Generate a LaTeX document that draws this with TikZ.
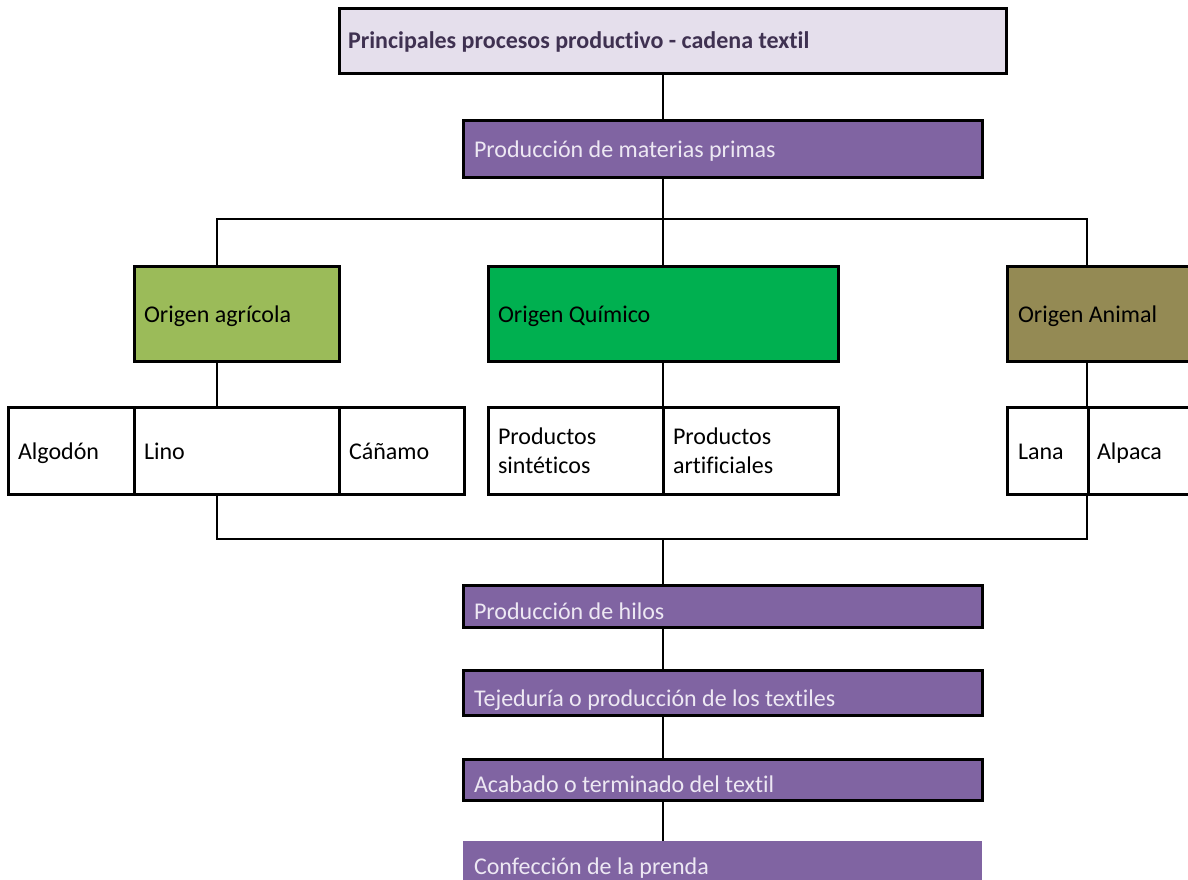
\documentclass[tikz,border=0pt]{standalone}
\usepackage{fontspec}
\setmainfont{Carlito}[Ligatures={NoCommon}]
\usetikzlibrary{backgrounds}

\definecolor{titlefill}{HTML}{E5DFEC}
\definecolor{titletext}{HTML}{3F3151}
\definecolor{procfill}{HTML}{8064A2}
\definecolor{proctext}{HTML}{EDE8F3}
\definecolor{agrfill}{HTML}{9BBB59}
\definecolor{quifill}{HTML}{00B050}
\definecolor{anifill}{HTML}{948A54}

\tikzset{
  box/.style={draw=black, line width=3pt, inner sep=0pt, outer sep=0pt},
  proc/.style={box, fill=procfill},
  conn/.style={draw=black, line width=2pt},
  lbl/.style={anchor=base west, inner sep=0pt, outer sep=0pt,
    font=\fontsize{24}{29.3}\selectfont, align=left},
}

\begin{document}
\begin{tikzpicture}[x=1pt, y=-1pt]
\useasboundingbox (0,0) rectangle (1188,879);

% guide columns and junction rails
\coordinate (spine) at (663,0);
\coordinate (colA) at (217,0);
\coordinate (colC) at (1087,0);
\coordinate (rail1) at (663,219);
\coordinate (rail2) at (663,539);

% title and first stage
\node[box, fill=titlefill, minimum width=667pt, minimum height=65pt] (title) at (672.5,40.5) {};
\node[lbl, font=\fontsize{24}{29.3}\selectfont\bfseries, text=titletext] (title-t) at (348,48.5) {Principales procesos productivo - cadena textil};

\node[proc, minimum width=519pt, minimum height=57pt] (mp) at (722.5,148.5) {};
\node[lbl, text=proctext] (mp-t) at (474,157) {Producción de materias primas};

% origin groups
\node[box, fill=agrfill, minimum width=205pt, minimum height=95pt] (agr) at (236.5,313.5) {};
\node[lbl] (agr-t) at (144,322) {Origen agrícola};
\node[box, fill=quifill, minimum width=350pt, minimum height=95pt] (qui) at (663,313.5) {};
\node[lbl] (qui-t) at (498,322) {Origen Químico};
\node[box, fill=anifill, minimum width=223pt, minimum height=95pt] (ani) at (1118.5,313.5) {};
\node[lbl] (ani-t) at (1018,322) {Origen Animal};

% fibre row
\node[box, fill=white, minimum width=126pt, minimum height=87pt] (algo) at (71,450.5) {};
\node[lbl] (algo-t) at (18,459) {Algodón};
\node[box, fill=white, minimum width=205pt, minimum height=87pt] (lino) at (236.5,450.5) {};
\node[lbl] (lino-t) at (144,459) {Lino};
\node[box, fill=white, minimum width=125pt, minimum height=87pt] (cana) at (401.5,450.5) {};
\node[lbl] (cana-t) at (349,459) {Cáñamo};

\node[box, fill=white, minimum width=175pt, minimum height=87pt] (sint) at (575.5,450.5) {};
\node[lbl] (sint-t) at (498,473.5) {Productos\\sintéticos};
\node[box, fill=white, minimum width=175pt, minimum height=87pt] (arti) at (750.5,450.5) {};
\node[lbl] (arti-t) at (673,473.5) {Productos\\artificiales};

\node[box, fill=white, minimum width=81pt, minimum height=87pt] (lana) at (1047.5,450.5) {};
\node[lbl] (lana-t) at (1018,459) {Lana};
\node[box, fill=white, minimum width=142pt, minimum height=87pt] (alpa) at (1159,450.5) {};
\node[lbl] (alpa-t) at (1097,459) {Alpaca};

% later stages
\node[proc, minimum width=519pt, minimum height=42pt] (hilos) at (722.5,606) {};
\node[lbl, text=proctext] (hilos-t) at (474,619.5) {Producción de hilos};
\node[proc, minimum width=519pt, minimum height=45pt] (teje) at (722.5,693) {};
\node[lbl, text=proctext] (teje-t) at (474,706) {Tejeduría o producción de los textiles};
\node[proc, minimum width=519pt, minimum height=41pt] (acab) at (722.5,779.5) {};
\node[lbl, text=proctext] (acab-t) at (474,792) {Acabado o terminado del textil};
\node[fill=procfill, inner sep=0pt, minimum width=519pt, minimum height=60pt] (conf) at (722.5,871) {};
\node[lbl, text=proctext] (conf-t) at (474,874) {Confección de la prenda};

% connectors, kept behind the boxes
\begin{pgfonlayer}{background}
\fill[white] (0,0) rectangle (1188,879);
\draw[conn] (spine |- title.south) -- (spine |- mp.north);
\draw[conn] (spine |- mp.south) -- (qui.north);
\draw[conn] (colA |- agr.north) -- (colA |- rail1) -- (colC |- rail1) -- (colC |- ani.north);
\draw[conn] (colA |- agr.south) -- (colA |- lino.north);
\draw[conn] (qui.south) -- (spine |- sint.north);
\draw[conn] (colC |- ani.south) -- (colC |- lana.north);
\draw[conn] (colA |- lino.south) -- (colA |- rail2) -- (colC |- rail2) -- (colC |- lana.south);
\draw[conn] (rail2) -- (spine |- hilos.north);
\draw[conn] (spine |- hilos.south) -- (spine |- teje.north);
\draw[conn] (spine |- teje.south) -- (spine |- acab.north);
\draw[conn] (spine |- acab.south) -- (spine |- conf.north);
\end{pgfonlayer}
\end{tikzpicture}
\end{document}
